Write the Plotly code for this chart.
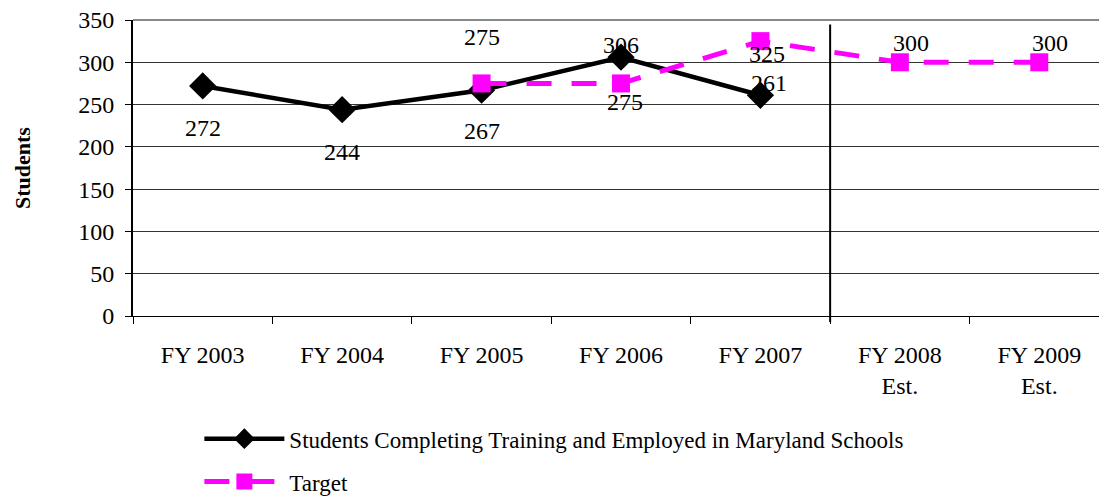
import plotly.graph_objects as go

categories = ["FY 2003", "FY 2004", "FY 2005", "FY 2006", "FY 2007", "FY 2008<br>Est.", "FY 2009<br>Est."]
students = [272, 244, 267, 306, 261, None, None]
target = [None, None, 275, 275, 325, 300, 300]
y_ticks = [0, 50, 100, 150, 200, 250, 300, 350]

# label offsets (pixels) for data labels
stu_shift = [(0, -42), (0, -42), (0, -41), (0, 12), (9, 12), None, None]
tgt_shift = [None, None, (0, 46), (4, -19), (7, -13), (11, 19), (11, 19)]

FONT = "Liberation Serif"
FS = 24

fig = go.Figure()
fig.add_trace(go.Scatter(
    x=categories, y=students, mode="lines+markers",
    name="Students Completing Training and Employed in Maryland Schools",
    line=dict(color="black", width=4.5),
    marker=dict(symbol="diamond", size=21, color="black"),
    legendgroup="a", connectgaps=False,
))
fig.add_trace(go.Scatter(
    x=categories, y=target, mode="lines+markers",
    name="Target",
    line=dict(color="#FF00FF", width=5, dash="25px,20px"),
    marker=dict(symbol="square", size=18, color="#FF00FF"),
    legendgroup="b", connectgaps=False,
))

annotations = []
for cat, v, s in zip(categories, students, stu_shift):
    if v is None:
        continue
    annotations.append(dict(x=cat, y=v, xref="x", yref="y", text=str(v), showarrow=False,
                            xshift=s[0], yshift=s[1], font=dict(family=FONT, size=FS, color="black")))
for cat, v, s in zip(categories, target, tgt_shift):
    if v is None:
        continue
    annotations.append(dict(x=cat, y=v, xref="x", yref="y", text=str(v), showarrow=False,
                            xshift=s[0], yshift=s[1], font=dict(family=FONT, size=FS, color="black")))

annotations.append(dict(x=0, y=0.5, xref="paper", yref="paper", xshift=-111, text="<b>Students</b>",
                        textangle=-90, showarrow=False, xanchor="center", yanchor="middle",
                        font=dict(family=FONT, size=22, color="black")))

fig.update_layout(
    width=1107, height=496,
    margin=dict(l=125, r=6, t=12, b=188, autoexpand=False),
    paper_bgcolor="white", plot_bgcolor="white",
    font=dict(family=FONT, size=FS, color="black"),
    showlegend=True,
    legend=dict(x=0.068, y=-0.342, xanchor="left", yanchor="top",
                font=dict(family=FONT, size=FS - 1, color="black"),
                traceorder="grouped", tracegroupgap=10, itemwidth=80,
                bgcolor="rgba(0,0,0,0)"),
    annotations=annotations,
    shapes=[
        dict(type="line", xref="x", yref="paper", x0=4.5, x1=4.5, y0=-0.02, y1=0.985,
             line=dict(color="black", width=2)),
        dict(type="line", xref="paper", yref="paper", x0=0, x1=1, y0=1, y1=1,
             line=dict(color="#888888", width=2)),
    ],
)
fig.update_xaxes(
    type="category", categoryorder="array", categoryarray=categories,
    tickson="boundaries", ticks="outside", ticklen=7, tickcolor="black", tickwidth=1,
    showline=True, linecolor="black", linewidth=1, showgrid=False,
    tickfont=dict(family=FONT, size=FS, color="black"),
    range=[-0.5, 6.5], automargin=False, ticklabelstandoff=17,
)
fig.update_yaxes(
    range=[0, 350], tickvals=y_ticks, ticks="outside", ticklen=6, tickcolor="black",
    showline=True, linecolor="black", linewidth=2,
    showgrid=True, gridcolor="#333333", gridwidth=1, zeroline=False,
    tickfont=dict(family=FONT, size=FS, color="black"),
    automargin=False, ticklabelstandoff=6, ticklabeloverflow="allow",
)

fig.write_html("out.html")
